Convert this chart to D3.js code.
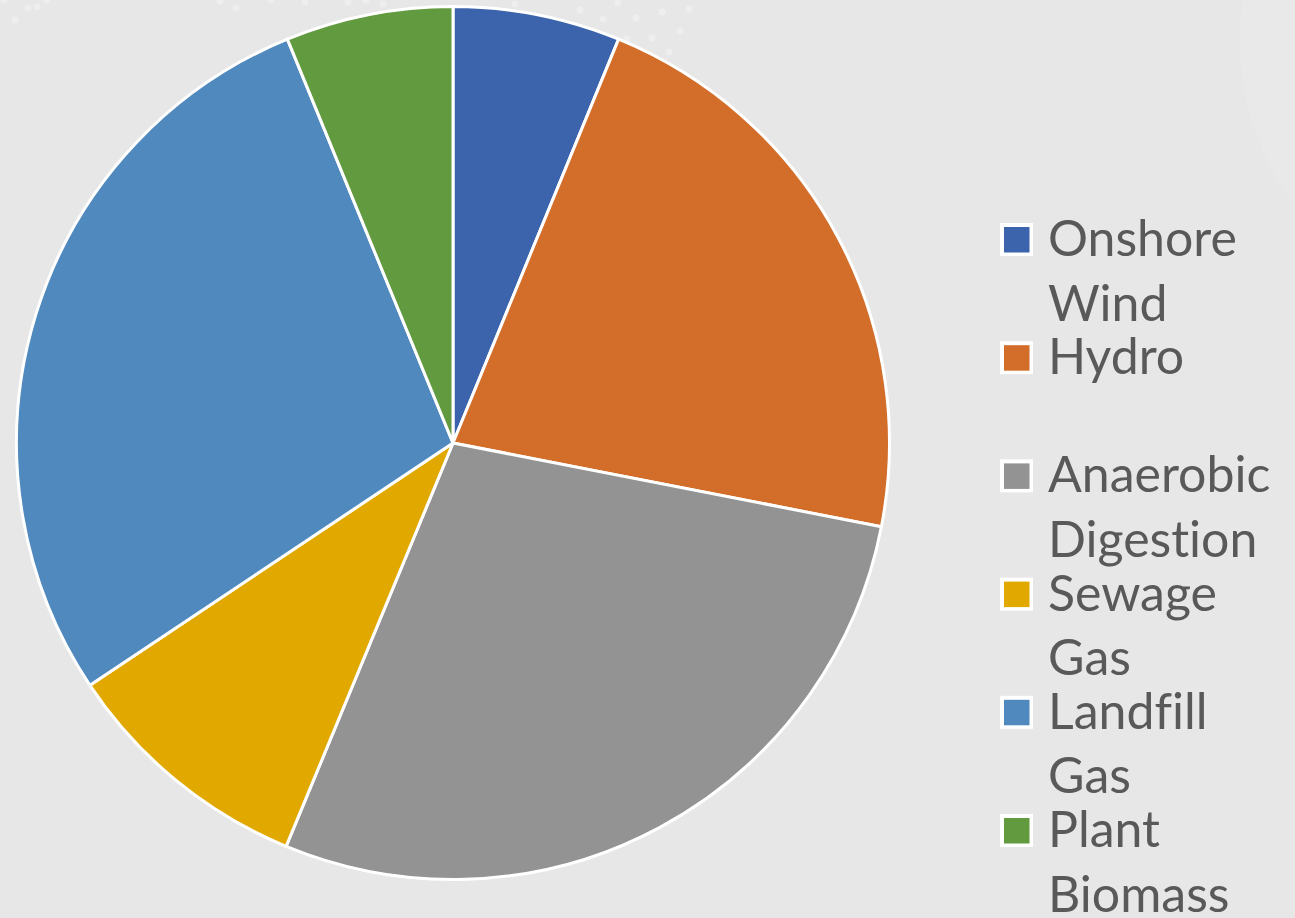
<!DOCTYPE html>
<html>
<head>
<meta charset="utf-8">
<script src="https://cdn.jsdelivr.net/npm/d3@7"></script>
<style>
  body { margin: 0; background: #e7e7e7; }
  svg { display: block; }
  text { font-variant-ligatures: none; font-feature-settings: "liga" 0, "clig" 0; }
</style>
</head>
<body>
<div id="chart"></div>
<script>
// chart data
var categories = ["Onshore Wind", "Hydro", "Anaerobic Digestion", "Sewage Gas", "Landfill Gas", "Plant Biomass"];
var shares = [6.2, 21.9, 28.2, 9.4, 28.2, 6.2];
var colors = ["#3c64ad", "#d36e2a", "#939393", "#e1a900", "#4f89bd", "#629a3f"];

// decorative background dots (theme pattern)
var bgDots = [[4, 0], [28, 8], [15, 20], [47, 0], [37, 7], [580, 10], [603, 19], [618, 3], [636, 18],
  [627, 39], [652, 38], [662, 12], [669, 52], [680, 31], [689, 9], [220, 1], [236, 8], [271, 0],
  [305, 2], [348, 2], [366, 0], [383, 4], [415, 9], [433, 10], [450, 20], [475, 18], [494, 12],
  [508, 32], [515, 4], [499, 52]];

var svgWidth = 1295;
var svgHeight = 918;

var svg = d3.select("#chart")
  .append("svg")
  .attr("width", svgWidth)
  .attr("height", svgHeight);

// background
svg.append("rect")
  .attr("width", svgWidth)
  .attr("height", svgHeight)
  .attr("fill", "#e7e7e7");

svg.append("circle")
  .attr("cx", 1520)
  .attr("cy", 40)
  .attr("r", 280)
  .attr("fill", "#e9e9e9");

svg.selectAll("circle.dot")
  .data(bgDots)
  .enter()
  .append("circle")
  .attr("class", "dot")
  .attr("cx", d => d[0])
  .attr("cy", d => d[1])
  .attr("r", 3.5)
  .attr("fill", "#eeeeee");

// pie
var cx = 453, cy = 443, radius = 436.5;

var pie = d3.pie().sort(null).value(d => d);
var arc = d3.arc().innerRadius(0).outerRadius(radius);

var pieGroup = svg.append("g")
  .attr("transform", `translate(${cx}, ${cy})`);

pieGroup.selectAll("path")
  .data(pie(shares))
  .enter()
  .append("path")
  .attr("d", arc)
  .attr("fill", (d, i) => colors[i])
  .attr("stroke", "#ffffff")
  .attr("stroke-width", 3)
  .attr("stroke-linejoin", "round");

// legend
var legendX = 1000;
var firstBaseline = 256;
var itemStep = 118.2;
var lineStep = 64.5;

var legend = svg.append("g");

categories.forEach(function(name, i) {
  var base = firstBaseline + i * itemStep;
  legend.append("rect")
    .attr("x", legendX)
    .attr("y", base - 33)
    .attr("width", 33)
    .attr("height", 33)
    .attr("fill", "#ffffff");
  legend.append("rect")
    .attr("x", legendX + 4)
    .attr("y", base - 29)
    .attr("width", 25.5)
    .attr("height", 25.5)
    .attr("fill", colors[i]);

  name.split(" ").forEach(function(word, j) {
    legend.append("text")
      .attr("x", legendX + 48)
      .attr("y", base + j * lineStep)
      .attr("font-family", "Lato, 'Open Sans', sans-serif")
      .attr("font-size", 50)
      .attr("fill", "#595959")
      .text(word);
  });
});
</script>
</body>
</html>
